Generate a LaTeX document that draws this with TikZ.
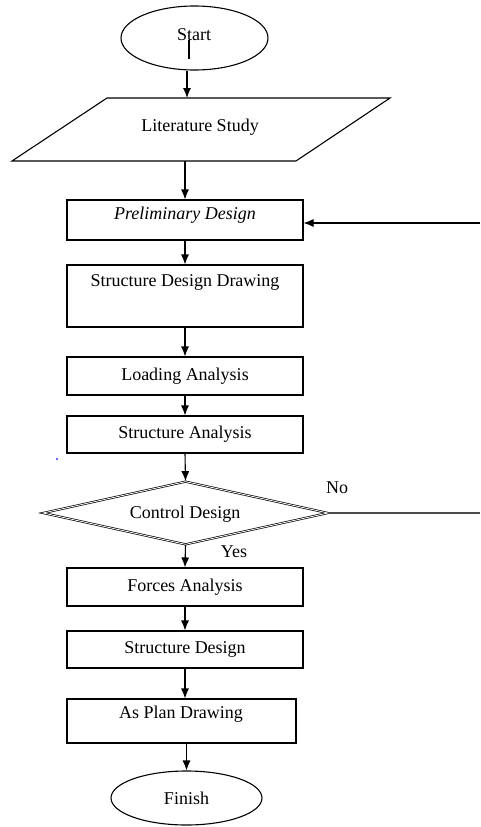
\documentclass[tikz,border=0pt]{standalone}
\usepackage{fontspec}
\setmainfont{Liberation Serif}
\usetikzlibrary{shapes.geometric,arrows.meta}
\begin{document}
\begin{tikzpicture}[x=1pt,y=-1pt,
  every node/.style={font=\fontsize{18}{20}\selectfont, inner sep=0pt},
  box/.style={draw, line width=1.1pt, rectangle},
  oval/.style={draw, line width=1.1pt, ellipse},
  arr/.style={draw, line width=1.1pt, -{Latex[length=10pt,width=8pt]}},
  plain/.style={draw, line width=1.1pt}
]
\useasboundingbox (0,0) rectangle (480,827);
% Start
\node[oval, minimum width=147, minimum height=64] (start) at (194.5,38) {};
\node (startt) at (194,35) {Start};
\coordinate (mk1) at (189,40);
\coordinate (mk2) at (189,59);
\draw[line width=1.8pt] (mk1) -- (mk2);
% Literature Study parallelogram
\coordinate (p1) at (107,98);
\coordinate (p2) at (390,98);
\coordinate (p3) at (296,161);
\coordinate (p4) at (12,161);
\draw[line width=1.1pt] (p1) -- (p2) -- (p3) -- (p4) -- cycle;
\node (lit) at (200,127) {Literature Study};
\coordinate (littop) at (187,98);
\coordinate (litbot) at (185,161);
% Boxes
\node[box, minimum width=236, minimum height=40] (pre) at (185,220) {};
\node (pret) at (185,215) {\itshape Preliminary Design};
\node[box, minimum width=236, minimum height=62] (sdd) at (185,296) {};
\node (sddt) at (185,282) {Structure Design Drawing};
\node[box, minimum width=236, minimum height=38] (load) at (185,376) {Loading Analysis};
\node[box, minimum width=236, minimum height=37] (sa) at (185,434.5) {Structure Analysis};
% diamond
\node[draw, diamond, double, line width=0.7pt, double distance=0.8pt, shape aspect=4.5,
      minimum width=285, minimum height=63] (cd) at (185.5,513) {};
\node (cdt) at (185,514) {Control Design};
\node (no) at (337,488) {No};
\node (yes) at (234,552) {Yes};
\node[box, minimum width=236, minimum height=38] (fa) at (185,587) {Forces Analysis};
\node[box, minimum width=236, minimum height=37] (sd) at (185,649.5) {Structure Design};
\node[box, minimum width=229, minimum height=44] (apd) at (181.5,721) {};
\node (apdt) at (181,714) {As Plan Drawing};
\node[oval, minimum width=151, minimum height=54] (fin) at (186.5,798) {Finish};
% blue dot
\fill[blue!80] (57,459) circle (1.1);
% arrows
\draw[arr] (start.south -| littop) -- (littop);
\draw[arr] (litbot) -- (pre.north -| litbot);
\draw[arr] (pre.south) -- (sdd.north);
\draw[arr] (sdd.south) -- (load.north);
\draw[arr] (load.south) -- (sa.north);
\draw[arr] (sa.south) -- (cd.north);
\draw[arr] (cd.south) -- (fa.north);
\draw[arr] (fa.south) -- (sd.north);
\draw[arr] (sd.south) -- (sd.south |- apd.north);
\draw[arr] (fin.north |- apd.south) -- (fin.north);
% loop back
\coordinate (noend) at (480,513);
\coordinate (backstart) at (480,223);
\draw[line width=1.1pt, black!70] (cd.east) -- (cd.east -| noend);
\draw[arr] (backstart) -- (pre.east |- backstart);
\end{tikzpicture}
\end{document}
